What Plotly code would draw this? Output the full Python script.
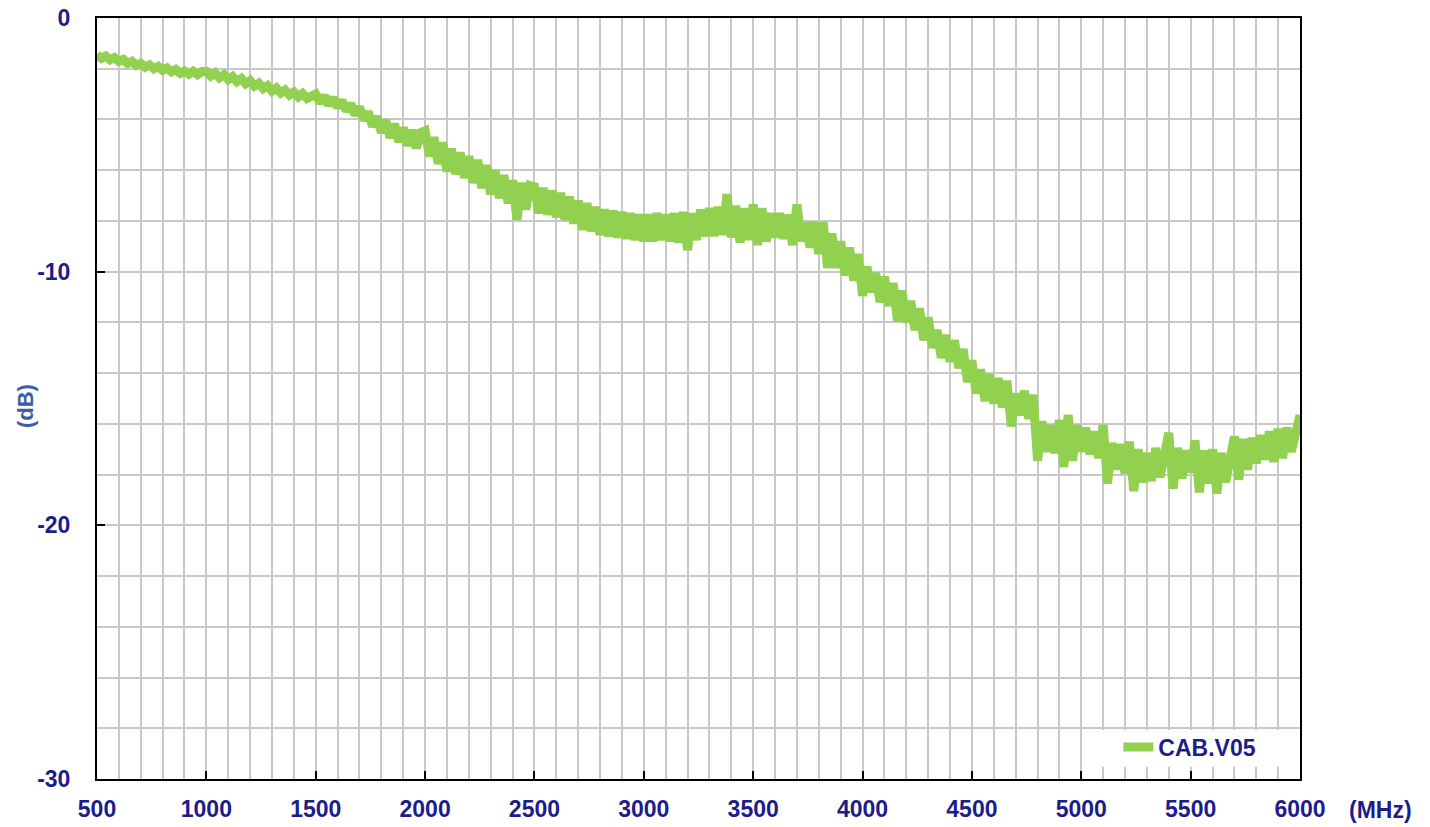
import plotly.graph_objects as go

# ---- data ----
freq_mhz = list(range(500, 6001, 20))

loss_db = [
    # 500 - 980 MHz
    -1.44, -1.59, -1.50, -1.65, -1.56, -1.71, -1.63, -1.79, -1.71, -1.87,
    -1.79, -1.94, -1.85, -2.00, -1.91, -2.06, -1.97, -2.12, -2.03, -2.18,
    -2.09, -2.22, -2.10, -2.23, -2.11,
    # 1000 - 1480 MHz
    -2.10, -2.29, -2.17, -2.36, -2.24, -2.43, -2.31, -2.51, -2.39, -2.59,
    -2.47, -2.68, -2.57, -2.78, -2.67, -2.88, -2.76, -2.96, -2.84, -3.04,
    -2.92, -3.11, -2.98, -3.17, -3.04,
    # 1500 - 1980 MHz
    -3.00, -3.34, -3.07, -3.43, -3.15, -3.52, -3.25, -3.66, -3.38, -3.82,
    -3.50, -4.03, -3.70, -4.28, -3.88, -4.52, -4.03, -4.72, -4.17, -4.89,
    -4.32, -5.03, -4.42, -5.13, -4.52,
    # 2000 - 2480 MHz
    -4.45, -5.45, -4.70, -5.75, -4.90, -6.05, -5.15, -6.15, -5.30, -6.30,
    -5.45, -6.50, -5.60, -6.70, -5.80, -6.95, -6.00, -7.10, -6.20, -7.30,
    -6.40, -7.95, -6.50, -7.55, -6.60,
    # 2500 - 2980 MHz
    -6.65, -7.70, -6.70, -7.75, -6.80, -7.85, -6.90, -7.95, -7.05, -8.10,
    -7.20, -8.35, -7.30, -8.40, -7.45, -8.55, -7.55, -8.60, -7.60, -8.65,
    -7.65, -8.70, -7.70, -8.75, -7.75,
    # 3000 - 3480 MHz
    -8.80, -7.75, -8.80, -7.70, -8.75, -7.75, -8.80, -7.70, -8.85, -7.65,
    -9.15, -7.70, -8.75, -7.55, -8.60, -7.50, -8.60, -7.45, -8.55, -6.95,
    -8.65, -7.40, -8.85, -7.50, -8.75,
    # 3500 - 3980 MHz
    -7.35, -8.95, -7.50, -8.80, -7.70, -8.65, -7.70, -8.70, -7.75, -8.95,
    -7.35, -8.80, -8.05, -9.05, -8.05, -9.30, -8.05, -9.85, -8.50, -9.85,
    -8.80, -10.15, -9.05, -10.35, -9.30,
    # 4000 - 4480 MHz
    -10.95, -9.80, -10.80, -10.05, -11.20, -10.20, -11.35, -10.45, -11.95, -10.75,
    -12.00, -11.15, -12.30, -11.45, -12.70, -11.80, -13.00, -12.30, -13.40, -12.50,
    -13.55, -12.70, -13.80, -13.05, -14.35,
    # 4500 - 4980 MHz
    -13.50, -14.80, -13.85, -15.10, -14.05, -15.20, -14.20, -15.35, -14.30, -16.10,
    -14.80, -15.65, -14.70, -15.80, -14.85, -17.45, -15.90, -17.10, -16.05, -17.15,
    -15.85, -17.70, -15.65, -17.45, -16.05,
    # 5000 - 5480 MHz
    -17.10, -16.15, -17.20, -16.30, -17.35, -16.05, -18.35, -16.75, -17.80, -16.80,
    -17.95, -16.70, -18.65, -17.00, -18.30, -17.15, -18.25, -16.95, -18.10, -17.00,
    -16.35, -18.55, -16.95, -18.15, -17.05,
    # 5500 - 5980 MHz
    -17.90, -16.65, -18.70, -17.05, -18.35, -17.00, -18.75, -17.15, -18.30, -17.25,
    -16.50, -18.20, -16.60, -17.80, -16.55, -17.55, -16.45, -17.40, -16.30, -17.50,
    -16.20, -17.35, -16.15, -17.10, -16.30,
    # 6000 MHz
    -15.65,
]

series_name = "CAB.V05"
x_tick_vals = [500, 1000, 1500, 2000, 2500, 3000, 3500, 4000, 4500, 5000, 5500, 6000]
x_tick_text = ["500", "1000", "1500", "2000", "2500", "3000", "3500", "4000", "4500", "5000", "5500", "6000"]
y_tick_vals = [0, -10, -20, -30]
y_tick_text = ["0", "-10", "-20", "-30"]
x_unit = "(MHz)"
y_unit = "(dB)"

# ---- styling ----
GREEN = "#92D050"
NAVY = "#1c1c8a"
GRID = "#c8c8c8"
FONT = "Liberation Sans, Arial, sans-serif"
TICK_SIZE = 23

fig = go.Figure()
fig.add_trace(go.Scatter(
    x=freq_mhz, y=loss_db, mode="lines", name=series_name,
    line=dict(color=GREEN, width=9),
))

fig.update_layout(
    width=1430, height=827,
    margin=dict(l=97, r=130, t=18, b=48, autoexpand=False),
    paper_bgcolor="white", plot_bgcolor="white",
    font=dict(family=FONT, size=TICK_SIZE, color=NAVY),
    showlegend=True,
    legend=dict(
        x=0.849, xanchor="left", y=0.042, yanchor="middle",
        bgcolor="rgba(0,0,0,0)", borderwidth=0,
        font=dict(family=FONT, size=TICK_SIZE, color=NAVY, weight="bold"),
        itemwidth=30,
    ),
)

fig.update_xaxes(
    range=[500, 6000], tickvals=x_tick_vals, ticktext=x_tick_text,
    automargin=False,
    showgrid=True, gridcolor=GRID, gridwidth=1.5,
    minor=dict(dtick=100, tick0=500, showgrid=True, gridcolor=GRID, gridwidth=1.5, ticks=""),
    ticks="inside", ticklen=8, tickwidth=2, tickcolor="black",
    showline=True, linecolor="black", linewidth=2, mirror=True,
    tickfont=dict(family=FONT, size=TICK_SIZE, color=NAVY, weight="bold"),
    ticklabelstandoff=8, ticklabeloverflow="allow",
    zeroline=False,
)
fig.update_yaxes(
    range=[-30, 0], tickvals=y_tick_vals, ticktext=y_tick_text,
    automargin=False,
    showgrid=True, gridcolor=GRID, gridwidth=1.5,
    minor=dict(dtick=2, tick0=0, showgrid=True, gridcolor=GRID, gridwidth=1.5, ticks=""),
    ticks="inside", ticklen=8, tickwidth=2, tickcolor="black",
    showline=True, linecolor="black", linewidth=2, mirror=True,
    tickfont=dict(family=FONT, size=TICK_SIZE, color=NAVY, weight="bold"),
    ticklabelstandoff=20, ticklabeloverflow="allow",
    zeroline=False,
)

# white box behind the legend (covers grid lines)
fig.add_shape(
    type="rect", xref="x", yref="y",
    x0=5010, x1=6000, y0=-29.52, y1=-28.07,
    fillcolor="white", line=dict(width=0), layer="between",
)

fig.add_annotation(
    text=x_unit, xref="paper", yref="paper", x=1.0, y=0, xshift=80, yshift=-31,
    showarrow=False, xanchor="center", yanchor="middle",
    font=dict(family=FONT, size=TICK_SIZE, color=NAVY, weight="bold"),
)
fig.add_annotation(
    text=y_unit, xref="paper", yref="paper", x=0, y=0.49, xshift=-72,
    showarrow=False, textangle=-90, xanchor="center", yanchor="middle",
    font=dict(family=FONT, size=22, color="#3a5fa8", weight="bold"),
)

fig.write_html(
    "out.html",
    config={"displayModeBar": False},
    post_script="document.body.style.margin='0';",
)
